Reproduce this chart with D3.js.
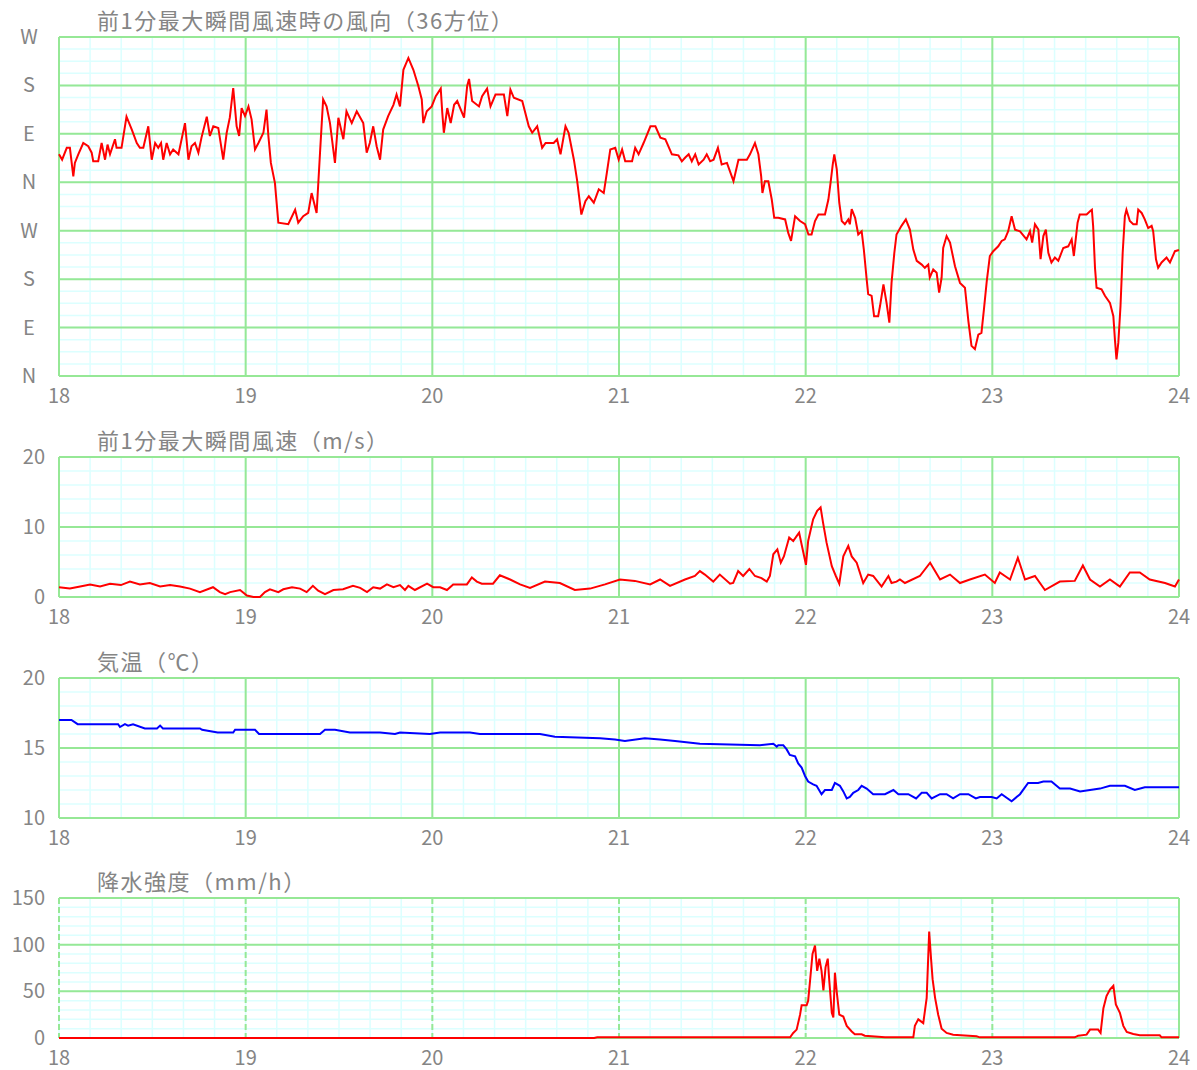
<!DOCTYPE html>
<html>
<head>
<meta charset="utf-8">
<script src="https://cdn.jsdelivr.net/npm/d3@7"></script>
<style>
  body { margin: 0; background: #fff; }
  svg text { font-family: "Noto Sans CJK JP", "Noto Sans", sans-serif; fill: #858585; }
</style>
</head>
<body>
<div id="chart"></div>
<script>
// ---- データ（分: 18:00 からの経過分） ----
const hourTicks = [18, 19, 20, 21, 22, 23, 24];
const dirLabels = ["N", "E", "S", "W", "N", "E", "S", "W"];
const titles = ["前1分最大瞬間風速時の風向（36方位）", "前1分最大瞬間風速（m/s）", "気温（℃）", "降水強度（mm/h）"];

// 風向（度, N=0 から展開）
const windDir = [[0,412],[1,402],[2.5,424],[3.5,424],[4.6,371],[5.1,396],[6.2,412],[7.8,433],[9.4,427],[10.5,415],[11,399],[12.6,399],[13.7,433],[14.8,402],[15.6,430],[16.4,412],[18,440],[18.5,424],[20.1,424],[21.7,482],[23.4,458],[25,433],[26,424],[27.1,424],[28.7,464],[29.8,402],[30.9,433],[31.9,424],[32.8,433],[33.5,402],[34.6,433],[35.7,412],[36.7,421],[38.4,412],[40.5,470],[41.6,402],[42.6,427],[43.7,433],[44.8,415],[45.8,443],[47.5,482],[48.5,446],[49.6,464],[51.2,461],[52.8,402],[53.9,452],[54.9,480],[56,535],[57.1,464],[57.9,446],[58.7,498],[59.8,483],[60.9,501],[61.9,477],[63,421],[64.1,433],[65.7,452],[66.7,495],[67.3,446],[68.1,396],[69.4,359],[70.5,285],[73.7,282],[75.9,309],[76.9,285],[78.5,297],[80.1,303],[81.2,340],[82.8,303],[83.9,415],[84.9,514],[86,501],[87.1,470],[88.7,396],[89.8,480],[91.4,440],[92.4,492],[94.1,470],[95.7,492],[97.8,470],[98.9,415],[99.9,433],[101,464],[102.1,427],[103.2,402],[104.2,458],[105.8,483],[107.5,504],[108.5,523],[109.6,501],[110.7,569],[112.3,591],[113.9,569],[115.5,539],[116.6,514],[117.1,470],[118.2,492],[119.8,501],
  [121.1,520],[122.7,534],[123.2,489],[123.7,452],[124.8,498],[125.9,470],[127,504],[128,511],[130.2,480],[131.2,539],[131.8,552],[132.8,511],[135,501],[136,520],[137.6,534],[138.7,501],[140.3,523],[143,523],[144.1,483],[145.1,532],[146.2,517],[148.9,511],[151,464],[152.1,452],[153.7,464],[155.3,424],[156.4,433],[159,433],[160.1,440],[161.2,412],[162.8,464],[163.8,452],[165.5,402],[166.5,365],[167.9,300],[169.2,325],[170.3,334],[171.9,322],[173.5,347],[175.1,340],[176.1,378],[177.2,421],[178.8,424],[179.9,402],[181,421],[182,399],[184.2,399],[185.2,424],[186.3,412],[187.9,433],[190.1,464],[191.7,464],[193.3,443],[194.9,440],[197,412],[199.1,410],[200.2,399],[201.3,406],[202.4,412],[203.4,399],[204.5,412],[205.6,393],[207.2,402],[208.2,412],[209.3,399],[210.4,402],[211.8,424],[213,393],[214.7,396],[216.8,362],[218.4,402],[221.1,402],[222.1,412],[223.7,433],[224.8,412],[225.7,371],[226.1,340],[226.9,362],[228,362],[229.1,328],[229.9,294],[231.2,294],[233.4,291],[234.4,266],[235.3,251],[236.6,297],[238.2,288],[239.8,282],
  [240.9,263],[241.9,263],[243,288],[244.1,300],[246.2,300],[247.3,328],[248,359],[248.7,393],[249.2,412],[250,384],[250.8,322],[251.6,288],[252.6,282],[253.7,291],[254.2,282],[254.8,310],[255.9,294],[256.9,263],[258,269],[258.7,235],[259.6,180],[260.1,152],[261.2,149],[262,111],[263.3,111],[263.9,130],[265,170],[266,136],[266.9,99],[267.6,173],[268.5,229],[269.2,263],[270.8,279],[272.2,291],[273.5,272],[274.6,235],[275.7,214],[277.3,207],[278.3,201],[279.4,207],[279.9,183],[281,198],[282.1,192],[282.9,155],[283.7,183],[284.2,238],[285.3,260],[286.4,248],[288,204],[289.6,173],[291.2,164],[292.3,102],[293.3,56],[294.4,50],[295.5,77],[296.5,80],[297.3,124],[298.2,176],[299.2,223],[300.3,232],[301.9,241],[303,251],[304,254],[305.1,269],[306.2,297],[307.3,272],[308.9,269],[311,254],[312.1,269],[312.8,248],[313.7,282],[314.8,272],[315.5,217],[316.4,260],[317.2,272],[318,229],[319,211],[320.1,220],[321.2,214],[322.8,238],[324.4,241],[325.5,254],[326.2,223],[327.4,285],[328.1,300],[330.3,300],[331.4,306],[332,309],[332.4,279],[333,201],[333.5,164],[335.1,161],[336.2,149],[337.8,136],[338.9,111],[339.4,68],[339.9,31],[340.5,62],[341.2,130],[341.9,229],[342.6,297],[343.1,309],[344.2,288],[345.3,282],[346.4,282],[346.9,309],[348,303],[349,291],[350.1,275],[351.2,279],[351.7,269],[352.6,217],[353.3,201],[354.4,211],[356,220],[357.1,211],[358.7,232],[360,234]];

// 風速 (m/s)
const windSpeed = [[0,1.4],[3.5,1.2],[6.8,1.5],[10,1.8],[13.2,1.5],[16.4,1.9],[19.9,1.7],[22.8,2.2],[26,1.8],[29.2,2.0],[32.5,1.5],[35.7,1.7],[38.9,1.5],[42.1,1.2],[45.3,0.7],[49.5,1.4],[51.7,0.7],[53.4,0.4],[55,0.7],[58.2,1.0],[60.4,0.2],[62.5,0],[64.6,0],[66.2,0.7],[67.8,1.1],[70.5,0.7],[72.1,1.1],[74.9,1.4],[77.5,1.2],[79.6,0.7],[81.6,1.6],[83.3,0.9],[85.5,0.4],[88.2,1.0],[91.3,1.1],[94.5,1.6],[96.8,1.3],[99,0.7],[101,1.4],[103.2,1.2],[105.4,1.8],[107.5,1.4],[109.6,1.7],[111.2,1.0],[112.3,1.6],[114.4,1.0],[118.3,1.9],[120.3,1.4],[122.5,1.4],[124.7,1.0],[126.7,1.8],[131.1,1.8],[132.7,2.8],[134.3,2.2],[135.9,1.9],[139.5,1.9],[141.7,3.1],[145,2.5],[148.2,1.8],[151.4,1.3],[156.2,2.2],[161,2.0],[165.8,1.0],[170.7,1.2],[175.5,1.8],[180.3,2.5],[185.1,2.3],[190,1.8],[193.2,2.5],[196.4,1.6],[201.2,2.5],[204.4,3.0],[206,3.7],[207.6,3.2],[210.3,2.2],[212.4,3.2],[215.7,1.9],[216.7,2.0],[218.3,3.7],[219.9,3.0],[221.9,4.0],[223.7,3.0],[225.8,2.7],[227.5,2.2],[228.5,3.0],[229.6,6.1],[230.9,6.8],[232,4.9],[233,5.8],[234.7,8.5],[236,8.0],[237.1,8.7],[237.9,9.2],[238.7,7.5],[240.1,4.6],[240.8,8.0],[242.4,11.1],[243.7,12.3],[244.8,12.8],[245.6,10.6],[246.7,7.8],[248.4,4.4],[249.7,3.0],[250.8,1.9],[252.1,5.8],[253.7,7.3],[254.8,5.8],[256.4,4.9],[258.5,2.0],[260.1,3.2],[261.7,3.0],[264.4,1.5],[266.6,3.0],[267.6,2.0],[269.2,2.2],[270.3,2.5],[271.9,2.0],[276.7,3.0],[280,4.9],[283.2,2.5],[286.4,3.2],[289.6,2.0],[292.8,2.5],[297.6,3.2],[300.8,2.0],[302.4,3.5],[305.7,2.5],[308.2,5.6],[310.5,2.5],[313.7,3.0],[316.9,1.0],[321.7,2.2],[326.5,2.3],[329.1,4.5],[331.4,2.5],[334.6,1.5],[337.8,2.5],[341,1.5],[344.2,3.5],[347.4,3.5],[350.6,2.5],[355.5,2.0],[358.7,1.5],[360,2.5]];

// 気温 (℃)
const temperature = [[0,17.0],[4,17.0],[6,16.7],[19,16.7],[19.6,16.5],[21.2,16.7],[22.2,16.6],[23.8,16.7],[27.6,16.4],[31.5,16.4],[32.5,16.6],[33.4,16.4],[45.3,16.4],[46,16.3],[51,16.1],[56,16.1],[56.6,16.3],[63,16.3],[64.3,16.0],[79.1,16.0],[83.9,16.0],[85.5,16.3],[88.7,16.3],[93.5,16.1],[103.2,16.1],[108,16.0],[109.6,16.1],[119.2,16.0],[122.5,16.1],[132.1,16.1],[135.3,16.0],[154.6,16.0],[159.4,15.8],[173.9,15.7],[178.7,15.6],[181.9,15.5],[188.3,15.7],[193.2,15.6],[198,15.5],[206,15.3],[225.3,15.2],[229.6,15.3],[230.7,15.1],[231.2,15.2],[232.8,15.2],[233.9,14.9],[234.9,14.5],[236.6,14.4],[237.6,13.9],[238.7,13.6],[239.8,13.0],[240.8,12.6],[242.4,12.4],[243.5,12.3],[245.1,11.7],[246.2,12.0],[248.4,12.0],[249.4,12.5],[251,12.3],[252.1,11.9],[253.2,11.4],[254.2,11.5],[255.3,11.8],[256.9,12.0],[258,12.3],[259.6,12.1],[261.7,11.7],[265.5,11.7],[268.2,12.0],[269.8,11.7],[273,11.7],[275.5,11.4],[277.3,11.8],[278.9,11.8],[280.5,11.4],[283.2,11.7],[285.3,11.7],[287.4,11.4],[289.6,11.7],[292.3,11.7],[294.7,11.4],[296,11.5],[299.8,11.5],[301.4,11.4],[303,11.7],[306.2,11.2],[308.9,11.7],[311.5,12.5],[314.7,12.5],[316.4,12.6],[319,12.6],[321.7,12.1],[325,12.1],[328.2,11.9],[331.4,12.0],[334.6,12.1],[337.8,12.3],[342.6,12.3],[345.8,12.0],[349,12.2],[360,12.2]];

// 降水強度 (mm/h)
const precipitation = [[0,0],[172,0],[173,0.7],[235,0.7],[236,5.4],[237.1,9],[238.2,25],[238.7,35],[240.3,35],[240.8,40],[241.4,61],[242.2,90],[243,99],[243.7,72],[244.4,85],[245.1,72],[245.7,51],[246.4,76],[247.1,85],[247.6,61],[248.4,27],[248.9,22],[249.4,70],[250,49],[250.8,25],[252.1,23],[253.2,13],[254.8,7],[255.8,4],[258,4],[259,2.5],[265.5,0.7],[274.6,0.7],[275.1,13],[276.2,20],[277.8,16],[278.9,43],[279.7,114],[280.3,85],[280.8,63],[281.6,43],[282.6,25],[283.7,10],[285.3,5.4],[287.4,3.6],[294.9,1.8],[296,0.7],[326.5,0.7],[327.6,2.5],[330.3,3.6],[331.4,9],[334,9],[334.8,5.4],[335.7,32],[336.7,45],[337.8,52],[338.9,56],[339.7,36],[341,27],[342.1,13],[343.2,6.5],[345.3,4.3],[347.4,2.9],[353.8,2.9],[354.4,0.7],[360,0.7]];

// ---- 描画 ----
const width = 1197, height = 1070;
const marginLeft = 59, marginRight = 18;
const majorColor = "#96e896", minorColor = "#dcffff";

const svg = d3.select("#chart").append("svg")
    .attr("width", width)
    .attr("height", height)
    .attr("viewBox", [0, 0, width, height]);

const x = d3.scaleLinear().domain([18, 24]).range([marginLeft, width - marginRight]);
const minorX = d3.range(18, 24.001, 1 / 6);

const panels = [
    {title: titles[0], top: 37, bottom: 376, domain: [0, 630], major: d3.range(0, 631, 90), minorStep: 22.5,
     labels: dirLabels, data: windDir, color: "red"},
    {title: titles[1], top: 457, bottom: 597, domain: [0, 20], major: [0, 10, 20], minorStep: 2,
     data: windSpeed, color: "red"},
    {title: titles[2], top: 678, bottom: 818, domain: [10, 20], major: [10, 15, 20], minorStep: 1,
     data: temperature, color: "blue"},
    {title: titles[3], top: 898, bottom: 1038, domain: [0, 150], major: [0, 50, 100, 150], minorStep: 10,
     data: precipitation, color: "red", dashed: true}
];

panels.forEach(p => {
    const y = d3.scaleLinear().domain(p.domain).range([p.bottom, p.top]);
    const g = svg.append("g");
    const minorY = d3.range(p.domain[0], p.domain[1] + 0.001, p.minorStep);

    // 補助グリッド
    g.selectAll(".minor-x").data(minorX).join("line")
        .attr("x1", d => x(d)).attr("x2", d => x(d))
        .attr("y1", p.top).attr("y2", p.bottom)
        .attr("stroke", minorColor).attr("stroke-width", 1.5);
    g.selectAll(".minor-y").data(minorY).join("line")
        .attr("x1", x(18)).attr("x2", x(24))
        .attr("y1", d => y(d)).attr("y2", d => y(d))
        .attr("stroke", minorColor).attr("stroke-width", 1.5);

    // 主グリッド
    g.selectAll(".major-y").data(p.major).join("line")
        .attr("x1", x(18)).attr("x2", x(24))
        .attr("y1", d => y(d)).attr("y2", d => y(d))
        .attr("stroke", majorColor).attr("stroke-width", 2);
    g.selectAll(".major-x").data(hourTicks).join("line")
        .attr("x1", d => x(d)).attr("x2", d => x(d))
        .attr("y1", p.top).attr("y2", p.bottom)
        .attr("stroke", majorColor).attr("stroke-width", 2)
        .attr("stroke-dasharray", d => (p.dashed && d < 24) ? "6,3" : null);
    g.append("line")
        .attr("x1", x(18)).attr("x2", x(24))
        .attr("y1", p.top).attr("y2", p.top)
        .attr("stroke", majorColor).attr("stroke-width", 2);

    // データ線
    const line = d3.line()
        .x(d => x(18 + d[0] / 60))
        .y(d => y(d[1]));
    g.append("path")
        .datum(p.data)
        .attr("fill", "none")
        .attr("stroke", p.color)
        .attr("stroke-width", 2)
        .attr("stroke-linejoin", "miter")
        .attr("d", line);

    // 軸ラベル
    g.selectAll(".xlab").data(hourTicks).join("text")
        .attr("x", d => x(d))
        .attr("y", p.bottom + 20)
        .attr("dy", "0.35em")
        .attr("text-anchor", "middle")
        .attr("font-size", 20)
        .text(d => d);
    g.selectAll(".ylab").data(p.major).join("text")
        .attr("x", p.labels ? 29 : 45)
        .attr("y", d => y(d))
        .attr("dy", "0.35em")
        .attr("text-anchor", p.labels ? "middle" : "end")
        .attr("font-size", 20)
        .text((d, i) => p.labels ? p.labels[i] : d);

    g.append("text")
        .attr("x", 97)
        .attr("y", p.top - 16)
        .attr("dy", "0.35em")
        .attr("font-size", 22)
        .attr("letter-spacing", 1.5)
        .text(p.title);
});
</script>
</body>
</html>
